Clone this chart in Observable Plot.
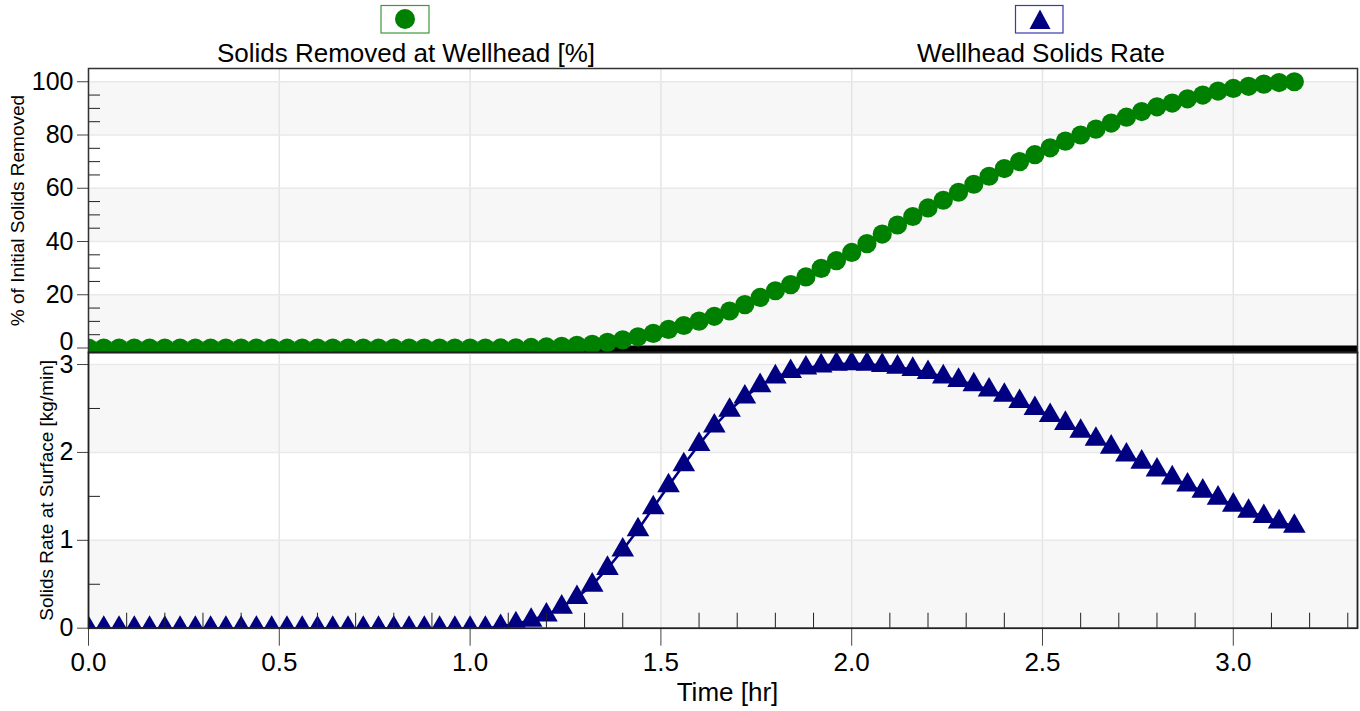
<!DOCTYPE html>
<html>
<head>
<meta charset="utf-8">
<script src="https://cdn.jsdelivr.net/npm/d3@7"></script>
<script src="https://cdn.jsdelivr.net/npm/@observablehq/plot@0.6"></script>
<style>
  html, body { margin: 0; padding: 0; background: #fff; }
  #wrap { position: relative; width: 1360px; height: 711px; overflow: hidden; font-family: "Liberation Sans", Arial, sans-serif; }
  #wrap svg { position: absolute; left: 0; overflow: visible; }
</style>
</head>
<body>
<div id="wrap"></div>
<script>
// ---- data ----
const times = [0,0.04,0.08,0.12,0.16,0.2,0.24,0.28,0.32,0.36,0.4,0.44,0.48,0.52,0.56,0.6,0.64,0.68,0.72,0.76,
  0.8,0.84,0.88,0.92,0.96,1,1.04,1.08,1.12,1.16,1.2,1.24,1.28,1.32,1.36,1.4,1.44,1.48,1.52,1.56,
  1.6,1.64,1.68,1.72,1.76,1.8,1.84,1.88,1.92,1.96,2,2.04,2.08,2.12,2.16,2.2,2.24,2.28,2.32,2.36,
  2.4,2.44,2.48,2.52,2.56,2.6,2.64,2.68,2.72,2.76,2.8,2.84,2.88,2.92,2.96,3,3.04,3.08,3.12,3.16];

const solidsRemovedPct = [0,0,0,0,0,0,0,0,0,0,0,0,0,0,0,0,0,0,0,0,0,0,0,0,0,0,0,
  0.03,0.1,0.2,0.4,0.65,1.0,1.4,2.1,3.05,4.2,5.5,7.0,8.45,10.1,11.9,13.9,16.3,19.0,21.5,23.8,
  26.7,29.9,32.8,35.9,39.2,42.8,46.2,49.4,52.6,55.5,58.5,61.5,64.5,67.4,70.0,72.6,75.2,77.7,
  80.0,82.2,84.5,86.7,88.8,90.6,92.0,93.6,95.0,96.5,97.5,98.3,99.1,99.7,100];

const wellheadSolidsRate = [0,0,0,0,0,0,0,0,0,0,0,0,0,0,0,0,0,0,0,0,0,0,0,0,0,0,0,
  0.02,0.05,0.09,0.15,0.24,0.35,0.49,0.68,0.89,1.12,1.37,1.62,1.86,2.09,2.30,2.48,2.63,2.76,
  2.86,2.92,2.96,2.985,3.005,3.01,3.005,2.99,2.97,2.945,2.91,2.86,2.82,2.77,2.71,2.65,2.58,
  2.50,2.42,2.33,2.24,2.15,2.06,1.97,1.89,1.80,1.71,1.63,1.56,1.48,1.40,1.33,1.27,1.21,1.16];

const seriesNames = ["Solids Removed at Wellhead [%]", "Wellhead Solids Rate"];
const xTitle = "Time [hr]";
const topTitle = "% of Initial Solids Removed";
const bottomTitle = "Solids Rate at Surface [kg/min]";

const xDomain = [0, 3.3255];
const xMajor = [0, 0.5, 1.0, 1.5, 2.0, 2.5, 3.0];
const xMinor = [0.1,0.2,0.3,0.4,0.6,0.7,0.8,0.9,1.1,1.2,1.3,1.4,1.6,1.7,1.8,1.9,2.1,2.2,2.3,2.4,2.6,2.7,2.8,2.9,3.1,3.2,3.3];

const topDomain = [-1.69, 104.98];
const topMajor = [20, 40, 60, 80, 100];
const topZero = [0];
const topMinor = [5,10,15,25,30,35,45,50,55,65,70,75,85,90,95];
const topBands = [{lo: 0, hi: 20}, {lo: 40, hi: 60}, {lo: 80, hi: 100}];

const botDomain = [0, 3.137];
const botMajor = [0, 1, 2, 3];
const botMinor = [0.5, 1.5, 2.5];
const botBands = [{lo: 0, hi: 1}, {lo: 2, hi: 3}];

(function () {
const green = "#008000";
const navy = "#000080";
const font = "Liberation Sans, Arial, sans-serif";
const intFmt = d3.format("d");

const rows = times.map((t, i) => ({t, pct: solidsRemovedPct[i], rate: wellheadSolidsRate[i]}));

const wrap = document.getElementById("wrap");

// ---- legend ----
const NS = "http://www.w3.org/2000/svg";
const leg = document.createElementNS(NS, "svg");
leg.setAttribute("width", 1360); leg.setAttribute("height", 68);
leg.style.top = "0px";
leg.innerHTML = `
  <g font-family="${font}" font-size="26" fill="#000" text-anchor="middle">
    <rect x="381" y="5.5" width="48" height="27.5" fill="#fff" stroke="#3c9a3c" stroke-width="1.2"/>
    <circle cx="405" cy="19" r="10" fill="${green}"/>
    <text x="406" y="62">${seriesNames[0]}</text>
    <rect x="1015.5" y="5.5" width="47.5" height="27.5" fill="#fff" stroke="#3a3ab0" stroke-width="1.2"/>
    <path d="M1040,9.5L1050.5,29L1029.5,29Z" fill="${navy}"/>
    <text x="1041" y="62">${seriesNames[1]}</text>
  </g>`;
wrap.appendChild(leg);

const tickStroke = "#444";

// ---- top panel ----
const topPlot = Plot.plot({
  width: 1360, height: 284,
  marginTop: 0, marginBottom: 0, marginLeft: 88, marginRight: 3,
  style: {fontFamily: font, background: "transparent", overflow: "visible", color: "#000"},
  x: {domain: xDomain, axis: null},
  y: {domain: topDomain, axis: null},
  marks: [
    Plot.rect(topBands, {x1: xDomain[0], x2: xDomain[1], y1: "lo", y2: "hi", fill: "#f7f7f7"}),
    Plot.gridX(xMajor, {stroke: "#e4e4e4", strokeOpacity: 1, strokeWidth: 1.5}),
    Plot.gridY([0, ...topMajor], {stroke: "#e9e9e9", strokeOpacity: 1, strokeWidth: 1.5}),
    Plot.ruleY([topDomain[0]], {stroke: "#000", strokeWidth: 7, dy: -3.5}),
    Plot.line(rows, {x: "t", y: "pct", stroke: green, strokeWidth: 2.5, clip: true}),
    Plot.dot(rows, {x: "t", y: "pct", r: 9.6, fill: green, clip: true}),
    Plot.axisY(topMajor, {tickSize: 11, tickPadding: 4, fontSize: 25, stroke: tickStroke, label: null, tickFormat: intFmt}),
    Plot.axisY(topZero, {tickSize: 11, tickFormat: () => "", stroke: tickStroke, label: null}),
    Plot.text(topZero, {y: d => d, text: intFmt, frameAnchor: "left", textAnchor: "end", dx: -15, dy: -6, fontSize: 25, fill: "#000"}),
    Plot.axisY(topMinor, {tickSize: -12, tickFormat: () => "", stroke: "#222", label: null}),
    Plot.frame({stroke: "#333", strokeWidth: 1.5}),
    Plot.text([topTitle], {frameAnchor: "left", textAnchor: "middle", lineAnchor: "middle", dx: -70.5, rotate: -90, fontSize: 19, fill: "#000"})
  ]
});
topPlot.style.top = "68px";
wrap.appendChild(topPlot);

// ---- bottom panel ----
const botPlot = Plot.plot({
  width: 1360, height: 359,
  marginTop: 0, marginBottom: 83.3, marginLeft: 88, marginRight: 3,
  style: {fontFamily: font, background: "transparent", overflow: "visible", color: "#000"},
  x: {domain: xDomain, axis: null},
  y: {domain: botDomain, axis: null},
  marks: [
    Plot.rect(botBands, {x1: xDomain[0], x2: xDomain[1], y1: "lo", y2: "hi", fill: "#f7f7f7"}),
    Plot.gridX(xMajor, {stroke: "#e4e4e4", strokeOpacity: 1, strokeWidth: 1.5}),
    Plot.gridY(botMajor, {stroke: "#e9e9e9", strokeOpacity: 1, strokeWidth: 1.5}),
    Plot.line(rows, {x: "t", y: "rate", stroke: navy, strokeWidth: 2.5, clip: true}),
    Plot.dot(rows, {x: "t", y: "rate", symbol: "triangle", r: 8.4, fill: navy, clip: true}),
    Plot.axisY(botMajor, {tickSize: 11, tickPadding: 4, fontSize: 25, stroke: tickStroke, label: null, tickFormat: intFmt}),
    Plot.axisY(botMinor, {tickSize: -12, tickFormat: () => "", stroke: "#222", label: null}),
    Plot.axisX(xMajor, {anchor: "bottom", tickSize: 18, tickPadding: 6, fontSize: 26, stroke: tickStroke, label: null, tickFormat: d3.format(".1f")}),
    Plot.axisX(xMinor, {anchor: "bottom", tickSize: -15, tickFormat: () => "", stroke: "#222", label: null}),
    Plot.frame({stroke: "#222", strokeWidth: 1.8}),
    Plot.text([bottomTitle], {frameAnchor: "left", textAnchor: "middle", lineAnchor: "middle", dx: -42, rotate: -90, fontSize: 19, fill: "#000"}),
    Plot.text([xTitle], {frameAnchor: "bottom", textAnchor: "middle", lineAnchor: "middle", dx: 4.5, dy: 64.5, fontSize: 26, fill: "#000"})
  ]
});
botPlot.style.top = "352px";
wrap.appendChild(botPlot);
})();
</script>
</body>
</html>
